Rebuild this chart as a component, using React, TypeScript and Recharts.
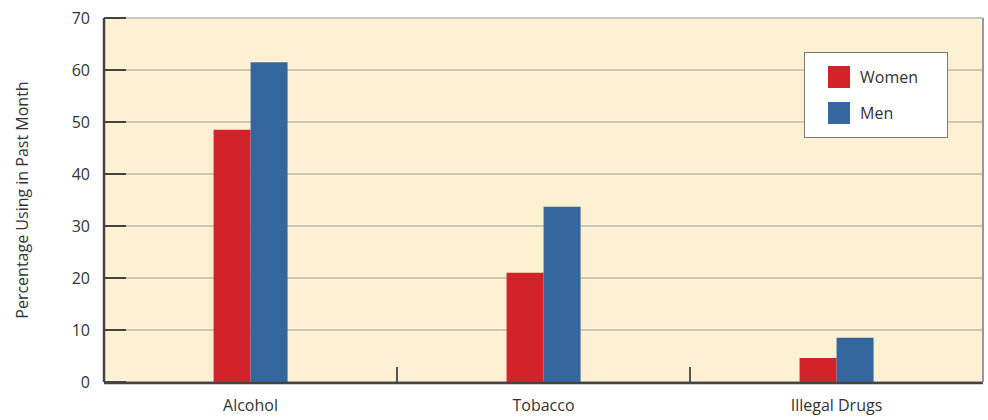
import { BarChart, Bar, XAxis, YAxis, CartesianGrid } from 'recharts';

const categories = ['Alcohol', 'Tobacco', 'Illegal Drugs'];
const women = [48.5, 21.0, 4.6];
const men = [61.5, 33.7, 8.5];
const yTicks = [0, 10, 20, 30, 40, 50, 60, 70];
const boundaryTicks = [1, 2];

const data = categories.map((name, i) => ({ name, pos: i + 0.5, women: women[i], men: men[i] }));

const FONT = '"Open Sans", "DejaVu Sans", sans-serif';
const TEXT = '#333333';

function LegendBox() {
  const items = [
    { label: 'Women', color: '#d2232a' },
    { label: 'Men', color: '#33679e' },
  ];
  return (
    <div
      style={{
        position: 'absolute',
        left: 804,
        top: 52,
        width: 144,
        height: 86,
        background: '#ffffff',
        border: '1px solid #777',
        boxSizing: 'border-box',
        padding: '13px 0 0 23px',
        fontFamily: FONT,
        fontSize: 16,
        color: TEXT,
      }}
    >
      {items.map((it) => (
        <div key={it.label} style={{ display: 'flex', alignItems: 'center', height: 22, marginBottom: 14 }}>
          <span style={{ width: 22, height: 22, background: it.color, display: 'inline-block', marginRight: 10 }} />
          <span>{it.label}</span>
        </div>
      ))}
    </div>
  );
}

export default function App() {
  return (
    <div style={{ position: 'absolute', left: 0, top: 0, width: 988, height: 420, background: '#ffffff' }}>
      <BarChart
        width={988}
        height={420}
        data={data}
        margin={{ top: 18, right: 4, bottom: 8, left: 0 }}
        barGap={0}
        barCategoryGap="37.4%"
      >
        <CartesianGrid xAxisId="b" vertical={false} stroke="#bdb9ad" strokeWidth={1.5} fill="#fef1d3" />
        <XAxis
          xAxisId="a"
          type="number"
          dataKey="pos"
          domain={[0, 3]}
          ticks={boundaryTicks}
          height={1}
          axisLine={false}
          tickLine={{ stroke: '#555', strokeWidth: 2 }}
          tickSize={-15}
          tickFormatter={() => ''}
        />
        <XAxis
          xAxisId="b"
          dataKey="name"
          height={29}
          axisLine={{ stroke: '#444', strokeWidth: 2.5 }}
          tickLine={false}
          tick={{ fill: TEXT, fontSize: 16, fontFamily: FONT }}
          tickMargin={11}
        />
        <YAxis
          domain={[0, 70]}
          ticks={yTicks}
          width={104}
          interval={0}
          axisLine={{ stroke: '#444', strokeWidth: 2.5 }}
          tickLine={{ stroke: '#444', strokeWidth: 2 }}
          tickSize={-22}
          tickMargin={36}
          tick={{ fill: TEXT, fontSize: 16, fontFamily: FONT }}
          label={{
            value: 'Percentage Using in Past Month',
            angle: -90,
            position: 'insideLeft',
            offset: 22,
            style: { fill: TEXT, fontSize: 16, fontFamily: FONT, textAnchor: 'middle' },
          }}
        />
        <YAxis
          yAxisId="right"
          orientation="right"
          width={1}
          domain={[0, 70]}
          tick={false}
          tickLine={false}
          axisLine={{ stroke: '#999', strokeWidth: 2 }}
        />
        <Bar xAxisId="b" dataKey="women" name="Women" fill="#d2232a" isAnimationActive={false} />
        <Bar xAxisId="b" dataKey="men" name="Men" fill="#33679e" isAnimationActive={false} />
      </BarChart>
      <LegendBox />
    </div>
  );
}
